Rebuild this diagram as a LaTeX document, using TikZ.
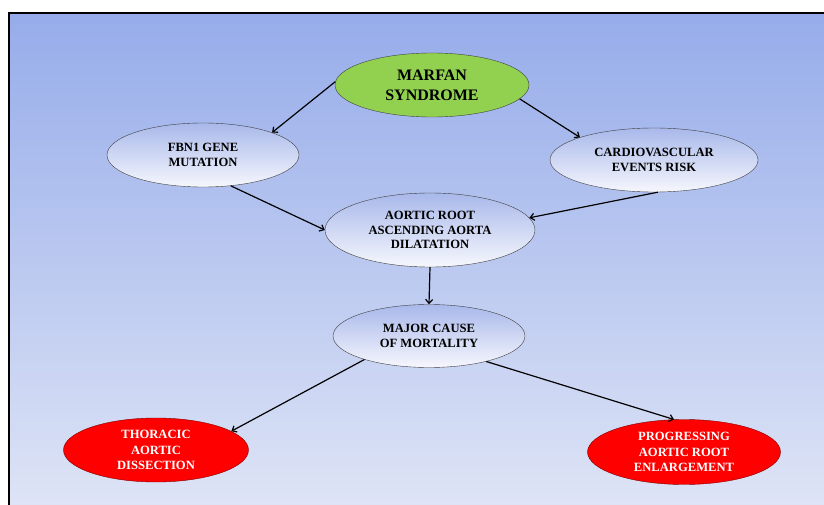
\documentclass[tikz,border=0pt]{standalone}
\usepackage{fontspec}
\setmainfont{Liberation Serif}
\usepackage{tikz}
\usetikzlibrary{arrows.meta,positioning,shapes.geometric}
\usepackage{xcolor}
\definecolor{bgTop}{RGB}{150,172,234}
\definecolor{bgBot}{RGB}{222,228,246}
\definecolor{nodeTop}{RGB}{168,184,234}
\definecolor{nodeBot}{RGB}{246,247,253}
\definecolor{marfanG}{RGB}{146,208,80}
\definecolor{riskR}{RGB}{255,0,0}

\tikzset{
  blob/.style={ellipse, draw=black!75, thin, inner sep=0pt, align=center,
    font=\fontsize{12.6}{14.5}\selectfont\bfseries},
  plain/.style={blob, top color=nodeTop, bottom color=nodeBot},
  outcome/.style={blob, fill=riskR, draw=red!50!black, text=white},
  link/.style={-{Straight Barb[length=4pt,width=7pt]}, line width=1.2pt}
}

\begin{document}
\begin{tikzpicture}[x=1pt,y=-1pt]
  \useasboundingbox (0,0) rectangle (824,505);
  % backdrop
  \shade[top color=bgTop, bottom color=bgBot] (9,13) rectangle (824,505);
  \draw[line width=2pt] (9,505) -- (9,13) -- (824,13);
  % nodes
  \node[blob, fill=marfanG, minimum width=194pt, minimum height=64pt,
        font=\fontsize{16}{20}\selectfont\bfseries] (marfan) at (432,85) {MARFAN\\SYNDROME};
  \node[plain, minimum width=192pt, minimum height=64pt] (fbn) at (203,155) {FBN1 GENE\\MUTATION};
  \node[plain, minimum width=208pt, minimum height=64pt] (cardio) at (654,160) {CARDIOVASCULAR\\EVENTS RISK};
  \node[plain, minimum width=210pt, minimum height=74pt] (aortic) at (430,230) {AORTIC ROOT\\ASCENDING AORTA\\DILATATION};
  \node[plain, minimum width=192pt, minimum height=63pt] (major) at (429,336) {MAJOR CAUSE\\OF MORTALITY};
  \node[outcome, minimum width=185pt, minimum height=64pt,
        font=\fontsize{12.6}{15.5}\selectfont\bfseries] (thoracic) at (156,450) {THORACIC\\AORTIC\\DISSECTION};
  \node[outcome, minimum width=193pt, minimum height=65pt,
        font=\fontsize{12.6}{15.5}\selectfont\bfseries] (enlarge) at (684,452) {PROGRESSING\\AORTIC ROOT\\ENLARGEMENT};
  % arrows
  \draw[link] (marfan.178) -- (fbn.18);
  \draw[link] (marfan.-9) -- (cardio.163);
  \draw[link] (fbn.-48) -- (aortic.west);
  \draw[link] (cardio.-83) -- (aortic.7);
  \draw[link] (aortic.south) -- (major.north);
  \draw[link] (major.200) -- (thoracic.14);
  \draw[link] (major.-24) -- (enlarge.107);
\end{tikzpicture}
\end{document}
